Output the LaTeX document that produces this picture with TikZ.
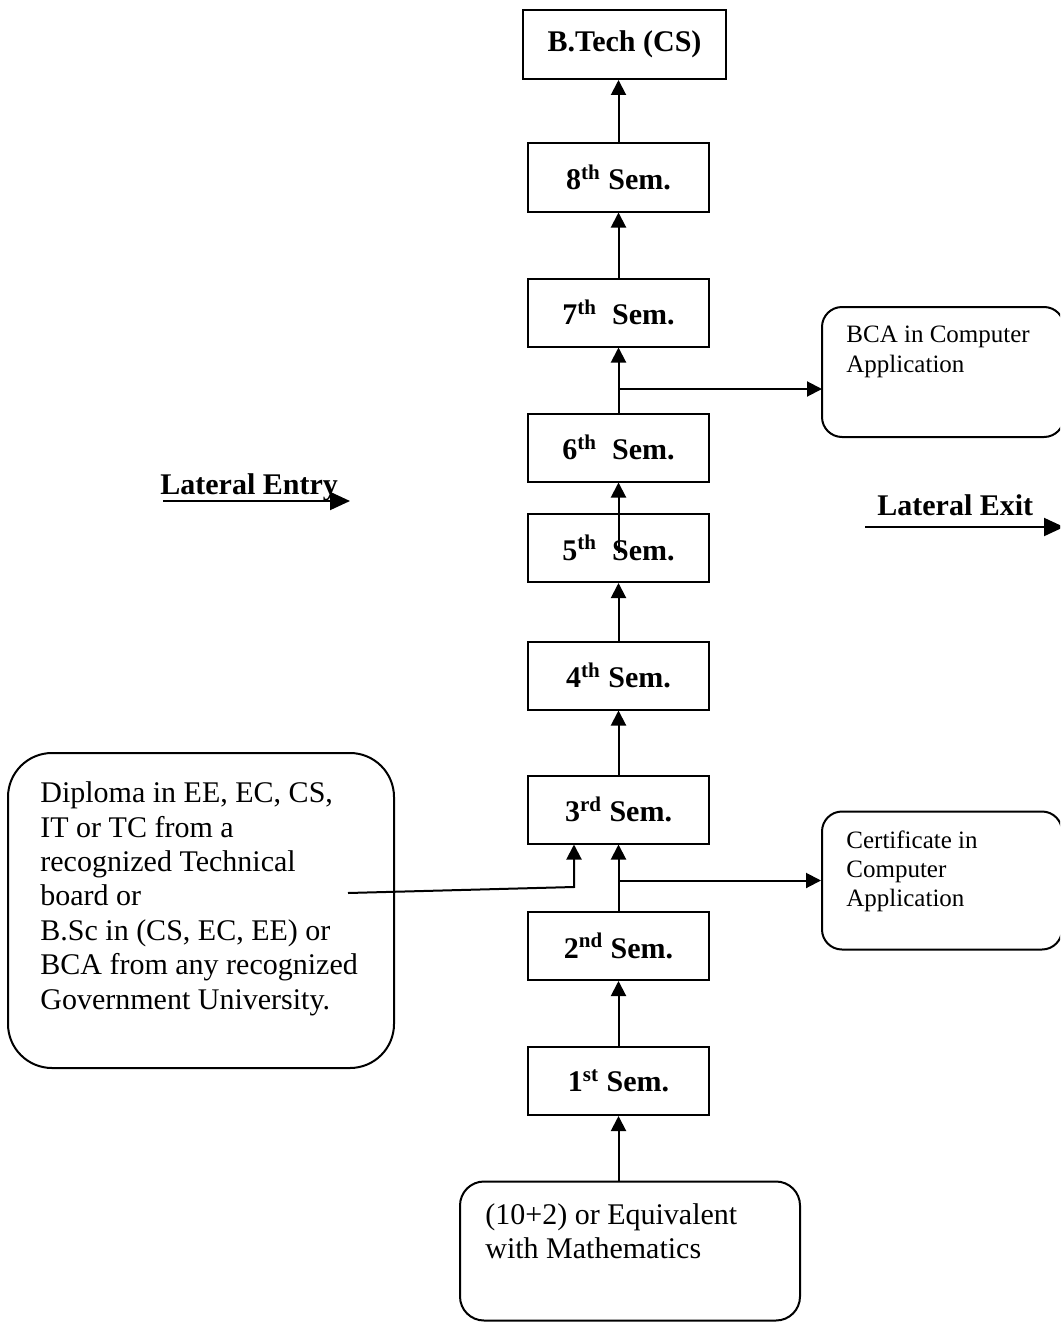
\documentclass[tikz,border=0pt]{standalone}
\usepackage{fontspec}
\setmainfont{Liberation Serif}
\usetikzlibrary{arrows.meta}
\begin{document}
\begin{tikzpicture}[x=0.5pt,y=-0.5pt,
  semstyle/.style={draw, line width=1pt, minimum width=90.5pt, minimum height=34pt,
    inner sep=0pt, font=\fontsize{15}{17}\selectfont\bfseries},
  roundbox/.style={draw, line width=1pt, rounded corners=#1, inner sep=0pt},
  arr/.style={line width=1pt, -{Triangle[length=7.5pt,width=7.5pt]}},
  latarr/.style={line width=1pt, -{Triangle[length=10pt,width=9pt]}},
  bigtxt/.style={inner sep=0pt, anchor=north west, align=left, font=\fontsize{15}{17.2}\selectfont},
  smalltxt/.style={inner sep=0pt, anchor=north west, align=left, font=\fontsize{12.5}{14.6}\selectfont},
  lattxt/.style={inner sep=0pt, anchor=base west, font=\fontsize{15}{17}\selectfont\bfseries}]
\useasboundingbox (0,0) rectangle (1060,1322);
\clip (0,0) rectangle (1060,1322);

% main column
\node[semstyle, minimum width=101.5pt, minimum height=34.5pt] (bt) at (624.5,44.5) {B.Tech (CS)};
\node[semstyle] (s8) at (618.5,177.5) {8\textsuperscript{th} Sem.};
\node[semstyle] (s7) at (618.5,312.5) {7\textsuperscript{th}\ \ Sem.};
\node[semstyle] (s6) at (618.5,447.5) {6\textsuperscript{th}\ \ Sem.};
\node[semstyle] (s5) at (618.5,548) {5\textsuperscript{th}\ \ Sem.};
\node[semstyle] (s4) at (618.5,675.5) {4\textsuperscript{th} Sem.};
\node[semstyle] (s3) at (618.5,809.5) {3\textsuperscript{rd} Sem.};
\node[semstyle] (s2) at (618.5,946) {2\textsuperscript{nd} Sem.};
\node[semstyle] (s1) at (618.5,1081) {1\textsuperscript{st} Sem.};

% rounded boxes
\node[roundbox=12pt, minimum width=170pt, minimum height=69.5pt] (base) at (630,1251) {};
\node[bigtxt] (basetxt) at (485,1203) {(10+2) or Equivalent\\with Mathematics};

\node[roundbox=22pt, minimum width=193pt, minimum height=157.5pt] (dip) at (201,910.5) {};
\node[bigtxt] (diptxt) at (40,781.5) {Diploma in EE, EC, CS,\\IT or TC from a\\recognized Technical\\board or\\B.Sc in (CS, EC, EE) or\\BCA from any recognized\\Government University.};

\node[roundbox=10pt, minimum width=121pt, minimum height=65pt] (bca) at (943,372) {};
\node[smalltxt] (bcatxt) at (846,326) {BCA in Computer\\Application};

\node[roundbox=10pt, minimum width=120pt, minimum height=69pt] (cert) at (942,880.5) {};
\node[smalltxt] (certtxt) at (846,830) {Certificate in\\Computer\\Application};

% lateral labels
\node[lattxt] (lentry) at (160,494) {Lateral Entry};
\node[lattxt] (lexit) at (877,515) {Lateral Exit};

% helper coordinates
\coordinate (le1) at (163,501);
\coordinate (le2) at (350,501);
\coordinate (lx1) at (865,527);
\coordinate (lx2) at (1064,527);
\coordinate (s5in) at (618.5,553);
\coordinate (bcaY) at (822,389);
\coordinate (dipl) at (348,893);
\coordinate (bend) at (574,887);

% connectors
\draw[arr] (s8.north) -- (s8.north |- bt.south);
\draw[arr] (s7.north) -- (s8.south);
\draw[arr] (s6.north) -- (s7.south);
\draw[arr] (s5in) -- (s6.south);
\draw[arr] (s4.north) -- (s5.south);
\draw[arr] (s3.north) -- (s4.south);
\draw[arr] (s2.north) -- (s3.south);
\draw[arr] (s1.north) -- (s2.south);
\draw[arr] (s1.south |- base.north) -- (s1.south);
\draw[arr] (bcaY -| s6.north) -- (bcaY);
\draw[arr] (s2.north |- cert.west) -- (cert.west);
\draw[arr] (dipl) -- (bend) -- (bend |- s3.south);
\draw[latarr] (le1) -- (le2);
\draw[latarr] (lx1) -- (lx2);
\end{tikzpicture}
\end{document}
